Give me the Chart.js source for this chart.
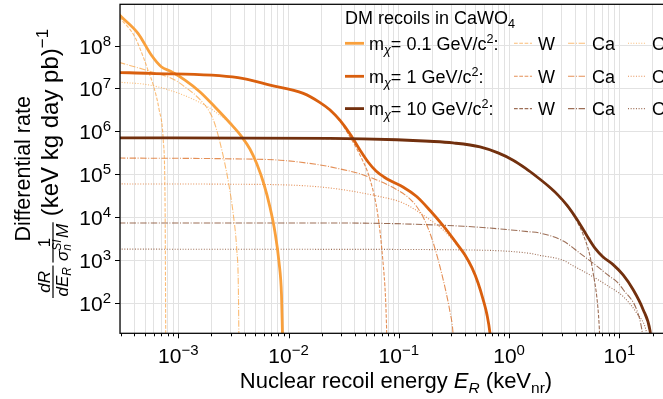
<!DOCTYPE html>
<html>
<head>
<meta charset="utf-8">
<script src="https://cdn.jsdelivr.net/npm/chart.js@4.4.1/dist/chart.umd.min.js"></script>
<style>
  html, body { margin: 0; padding: 0; background: #fff; overflow: hidden; }
  #wrap { position: relative; width: 700px; height: 399px; }
</style>
</head>
<body>
<div id="wrap"><canvas id="rateChart" width="700" height="399"></canvas></div>
<script>
// Recoil energies E_R in keV_nr, rates in (keV kg day pb)^-1

// m_chi = 0.1 GeV/c^2
const eTot01 = [2.9e-4, 3.04e-4, 4.31e-4, 5.69e-4, 7.01e-4, 8.59e-4, 1.15e-3, 1.575e-3, 2.15e-3, 2.94e-3, 3.78e-3, 4.46e-3, 5.16e-3, 5.98e-3, 6.78e-3, 7.53e-3, 8.19e-3, 8.63e-3, 8.81e-3, 8.9e-3];
const rTot01 = [5.3e8, 4.69e8, 1.92e8, 6.0e7, 3.2e7, 2.48e7, 1.57e7, 8.3e6, 3.7e6, 1.57e6, 7.4e5, 3.9e5, 1.74e5, 5.9e4, 1.73e4, 4.5e3, 906, 154, 18, 8];
const eW01 = [2.9e-4, 4.0e-4, 4.8e-4, 5.3e-4, 5.9e-4, 6.7e-4, 7.3e-4, 7.58e-4, 7.69e-4, 7.71e-4];
const rW01 = [4.6e8, 1.65e8, 5.5e7, 2.7e7, 1.25e7, 3.2e6, 6.3e5, 2.5e4, 20, 5];
const eCa01 = [2.9e-4, 5.7e-4, 9.3e-4, 1.14e-3, 1.45e-3, 1.82e-3, 2.0e-3, 2.19e-3, 2.4e-3, 2.63e-3, 2.88e-3, 3.16e-3, 3.39e-3, 3.5e-3, 3.55e-3];
const rCa01 = [4.05e7, 2.45e7, 1.58e7, 1.1e7, 6.76e6, 3.55e6, 2.34e6, 1.26e6, 5.25e5, 1.9e5, 5.6e4, 1.12e4, 1.78e3, 282, 10];
const eO01 = [2.9e-4, 5.5e-4, 1.1e-3, 1.86e-3, 2.23e-3, 2.94e-3, 3.78e-3, 4.46e-3, 5.16e-3, 5.98e-3, 6.78e-3, 7.53e-3, 8.19e-3, 8.63e-3, 8.81e-3, 8.9e-3];
const rO01 = [1.4e7, 1.2e7, 7.1e6, 3.7e6, 2.7e6, 1.55e6, 7.4e5, 3.9e5, 1.74e5, 5.9e4, 1.73e4, 4.5e3, 906, 154, 18, 8];

// m_chi = 1 GeV/c^2
const eTot1 = [2.9e-4, 5.53e-4, 3.48e-3, 6.79e-3, 1.36e-2, 1.93e-2, 2.38e-2, 2.93e-2, 3.61e-2, 4.44e-2, 5.26e-2, 6.21e-2, 7.33e-2, 8.67e-2, 0.109, 0.145, 0.192, 0.253, 0.335, 0.398, 0.461, 0.523, 0.583, 0.631, 0.671, 0.693];
const rTot1 = [2.35e7, 2.25e7, 1.78e7, 1.2e7, 7.7e6, 4.7e6, 3.15e6, 1.8e6, 8.7e5, 3.69e5, 1.94e5, 1.2e5, 8.7e4, 6.8e4, 5.1e4, 3.05e4, 1.44e4, 6.3e3, 2.45e3, 1.33e3, 664, 297, 119, 53, 20, 8];
const eW1 = [2.9e-4, 5.53e-4, 3.48e-3, 6.79e-3, 1.36e-2, 1.93e-2, 2.38e-2, 2.93e-2, 3.61e-2, 4.45e-2, 5.5e-2, 6.46e-2, 7.16e-2, 7.59e-2, 7.76e-2, 7.8e-2];
const rW1 = [2.33e7, 2.23e7, 1.76e7, 1.19e7, 7.6e6, 4.6e6, 3.0e6, 1.72e6, 7.4e5, 2.8e5, 7.4e4, 1.1e4, 1000, 117, 20, 10];
const eCa1 = [2.9e-4, 3.1e-3, 8.36e-3, 1.93e-2, 2.38e-2, 4.76e-2, 9.6e-2, 0.132, 0.156, 0.174, 0.192, 0.213, 0.236, 0.263, 0.291, 0.309, 0.314];
const rCa1 = [2.4e5, 2.3e5, 2.14e5, 1.66e5, 1.5e5, 9.7e4, 4.4e4, 2.4e4, 1.35e4, 7.9e3, 4.2e3, 1.86e3, 708, 224, 63, 22, 10];
const eO1 = [2.9e-4, 3.1e-3, 1.93e-2, 6.9e-2, 0.11, 0.192, 0.254, 0.335, 0.398, 0.461, 0.523, 0.583, 0.631, 0.671, 0.693];
const rO1 = [6.0e4, 5.9e4, 5.1e4, 3.0e4, 2.14e4, 8.7e3, 5.0e3, 2.3e3, 1.26e3, 630, 288, 117, 52, 20, 8];

// m_chi = 10 GeV/c^2
const eTot10 = [2.9e-4, 2.38e-2, 9.6e-2, 0.19, 0.31, 0.545, 0.794, 1.087, 1.413, 1.795, 2.239, 2.723, 3.357, 4.13, 5.09, 6.03, 7.11, 8.77, 10.81, 13.3, 16.4, 18.97, 19.7];
const rTot10 = [7.1e5, 6.9e5, 6.4e5, 5.9e5, 5.4e5, 4.37e5, 3.16e5, 2.14e5, 1.38e5, 8.7e4, 5.5e4, 3.47e4, 1.9e4, 8.9e3, 3.7e3, 1.9e3, 1.2e3, 794, 457, 209, 72, 23, 10];
const eW10 = [2.9e-4, 2.38e-2, 9.6e-2, 0.19, 0.31, 0.545, 0.794, 1.087, 1.413, 1.795, 2.239, 2.723, 3.357, 4.13, 4.69, 5.4, 5.8, 6.24, 6.55, 6.68];
const rW10 = [7.0e5, 6.8e5, 6.3e5, 5.8e5, 5.3e5, 4.3e5, 3.1e5, 2.1e5, 1.35e5, 8.5e4, 5.35e4, 3.35e4, 1.8e4, 8.0e3, 4.0e3, 1.3e3, 480, 140, 32, 10];
const eCa10 = [2.9e-4, 2.38e-2, 0.385, 1.55, 1.91, 3.1, 4.4, 5.8, 8.2, 9.5, 10.9, 14.4, 16.0, 16.7];
const rCa10 = [7.4e3, 7.4e3, 6.2e3, 4.6e3, 4.3e3, 2.8e3, 1.45e3, 850, 420, 316, 204, 69, 24, 10];
const eO10 = [2.9e-4, 2.38e-2, 0.443, 1.55, 1.91, 3.1, 3.83, 5.4, 7.7, 10.9, 14.4, 17.7, 18.9];
const rO10 = [1.82e3, 1.8e3, 1.74e3, 1.45e3, 1.3e3, 1.0e3, 740, 457, 263, 141, 58, 20, 6];

// axis ranges and tick decades
const xRange = [2.96e-4, 30];
const yRange = [20, 9.1e8];
const xDecades = [-3, -2, -1, 0, 1];
const yDecades = [2, 3, 4, 5, 6, 7, 8];

const massLabels = ['0.1', '1', '10'];
const massColors = ['#f9a03c', '#d95f0e', '#72300e'];
const targets = ['W', 'Ca', 'O'];
const targetDash = [[3.7, 1.6], [6.4, 1.6, 1, 1.6], [1, 1.65]];

const FONT = '"Liberation Sans", Arial, sans-serif';
const font = (size, style) => (style ? style + ' ' : '') + size + 'px ' + FONT;

function fade(hex, a) {
  const n = parseInt(hex.slice(1), 16);
  return 'rgba(' + (n >> 16) + ',' + ((n >> 8) & 255) + ',' + (n & 255) + ',' + a + ')';
}

function curve(e, r, color, width, dash, order) {
  return {
    data: e.map((v, i) => ({ x: v, y: r[i] })),
    borderColor: color,
    borderWidth: width,
    borderDash: dash,
    pointRadius: 0,
    fill: false,
    cubicInterpolationMode: 'monotone',
    order: order
  };
}

const series = [
  [eTot01, rTot01, eW01, rW01, eCa01, rCa01, eO01, rO01],
  [eTot1, rTot1, eW1, rW1, eCa1, rCa1, eO1, rO1],
  [eTot10, rTot10, eW10, rW10, eCa10, rCa10, eO10, rO10]
];

const datasets = [];
series.forEach((s, m) => {
  for (let t = 0; t < 3; t++) {
    datasets.push(curve(s[2 + 2 * t], s[3 + 2 * t], fade(massColors[m], 0.7), 1.1, targetDash[t], 5));
  }
});
series.forEach((s, m) => {
  datasets.push(curve(s[0], s[1], massColors[m], 2.8, [], 3 - m));
});

// draws runs of text with different fonts / baseline shifts, returns end x
function drawRuns(ctx, parts, x, y, measureOnly) {
  let cx = x;
  for (const p of parts) {
    ctx.font = p[1];
    if (!measureOnly) ctx.fillText(p[0], cx, y + (p[2] || 0));
    cx += ctx.measureText(p[0]).width;
  }
  return cx;
}

function powParts(exp) {
  const e = exp < 0 ? '\u2212' + (-exp) : String(exp);
  return [['10', font(21)], [e, font(15), -8]];
}

function isDecade(v) {
  const l = Math.log10(v);
  return Math.abs(l - Math.round(l)) < 1e-9;
}

const frameAndText = {
  id: 'frameAndText',
  afterDraw(chart) {
    const ctx = chart.ctx;
    const a = chart.chartArea;
    const xs = chart.scales.x;
    const ys = chart.scales.y;
    ctx.save();
    ctx.fillStyle = '#000';
    ctx.strokeStyle = '#000';
    ctx.textBaseline = 'alphabetic';
    ctx.textAlign = 'left';

    // axes box
    ctx.lineWidth = 1.25;
    ctx.strokeRect(a.left, a.top, a.right - a.left, a.bottom - a.top);

    // x ticks, major and minor
    ctx.lineWidth = 1;
    xs.ticks.forEach(t => {
      const px = Math.round(xs.getPixelForValue(t.value)) + 0.5;
      const len = isDecade(t.value) ? 5 : 3;
      ctx.beginPath();
      ctx.moveTo(px, a.bottom);
      ctx.lineTo(px, a.bottom + len);
      ctx.stroke();
    });
    // y ticks
    ys.ticks.forEach(t => {
      const py = Math.round(ys.getPixelForValue(t.value)) + 0.5;
      ctx.beginPath();
      ctx.moveTo(a.left - 5, py);
      ctx.lineTo(a.left, py);
      ctx.stroke();
    });

    // tick labels
    xDecades.forEach(d => {
      const px = xs.getPixelForValue(Math.pow(10, d));
      const parts = powParts(d);
      const w = drawRuns(ctx, parts, 0, 0, true);
      drawRuns(ctx, parts, px - w / 2, a.bottom + 30);
    });
    yDecades.forEach(d => {
      const py = ys.getPixelForValue(Math.pow(10, d));
      const parts = powParts(d);
      const w = drawRuns(ctx, parts, 0, 0, true);
      drawRuns(ctx, parts, a.left - 9 - w, py + 8);
    });

    // x title
    const xTitle = [
      ['Nuclear recoil energy ', font(22)],
      ['E', font(22, 'italic')],
      ['R', font(15.5, 'italic'), 4.5],
      [' (keV', font(22)],
      ['nr', font(15.5), 4.5],
      [')', font(22)]
    ];
    const xw = drawRuns(ctx, xTitle, 0, 0, true);
    drawRuns(ctx, xTitle, (a.left + a.right) / 2 - xw / 2, 388);

    // y title, first line
    const midY = (a.top + a.bottom) / 2;
    ctx.save();
    ctx.translate(30, midY);
    ctx.rotate(-Math.PI / 2);
    const l1 = [['Differential rate', font(21.5)]];
    const w1 = drawRuns(ctx, l1, 0, 0, true);
    drawRuns(ctx, l1, -w1 / 2, 0);
    ctx.restore();

    // y title, second line: dR/dE_R * 1/(sigma_n^SI M) (keV kg day pb)^-1
    ctx.save();
    ctx.translate(58, 298);
    ctx.rotate(-Math.PI / 2);
    const fs = 17, fsub = 12;
    ctx.font = font(fs, 'italic');
    const wNum1 = ctx.measureText('dR').width;
    const den1 = [['dE', font(fs, 'italic')], ['R', font(fsub, 'italic'), 3.5]];
    const wDen1 = drawRuns(ctx, den1, 0, 0, true);
    const bar1 = Math.max(wNum1, wDen1) + 3;
    ctx.font = font(fs, 'italic');
    ctx.fillText('dR', (bar1 - wNum1) / 2, -8.5);
    drawRuns(ctx, den1, (bar1 - wDen1) / 2, 9.5);
    ctx.fillRect(0, -5.6, bar1, 1.2);

    const x2 = bar1 + 3;
    ctx.font = font(fs, 'italic');
    const wSig = ctx.measureText('\u03c3').width;
    ctx.font = font(fsub, 'italic');
    const wSI = ctx.measureText('SI').width;
    ctx.font = font(fs, 'italic');
    const wM = ctx.measureText('M').width;
    const wDen2 = wSig + wSI + 1.5 + wM;
    const bar2 = wDen2 + 3;
    ctx.font = font(fs);
    const wOne = ctx.measureText('1').width;
    ctx.fillText('1', x2 + (bar2 - wOne) / 2, -8.5);
    let dx = x2 + 1.5;
    ctx.font = font(fs, 'italic');
    ctx.fillText('\u03c3', dx, 9.5);
    dx += wSig;
    ctx.font = font(fsub, 'italic');
    ctx.fillText('SI', dx, 2.5);
    ctx.fillText('n', dx, 13);
    dx += wSI + 1.5;
    ctx.font = font(fs, 'italic');
    ctx.fillText('M', dx, 9.5);
    ctx.fillRect(x2, -5.6, bar2, 1.2);

    drawRuns(ctx, [['(keV kg day pb)', font(24)], ['\u22121', font(17), -10]], x2 + bar2 + 6, 0);
    ctx.restore();

    ctx.restore();
  }
};

const legendBlock = {
  id: 'legendBlock',
  afterDatasetsDraw(chart) {
    const ctx = chart.ctx;
    ctx.save();
    ctx.fillStyle = '#000';
    ctx.textBaseline = 'alphabetic';
    drawRuns(ctx, [['DM recoils in CaWO', font(18)], ['4', font(12.6), 4]], 345, 24);
    const rowY = [43.3, 76.3, 108.6];
    const handleX = [514, 568, 628];
    const textX = [538, 592, 652];
    rowY.forEach((y, m) => {
      ctx.lineCap = 'butt';
      ctx.setLineDash([]);
      ctx.strokeStyle = massColors[m];
      ctx.lineWidth = 2.8;
      ctx.beginPath();
      ctx.moveTo(345, y);
      ctx.lineTo(364, y);
      ctx.stroke();
      drawRuns(ctx, [
        ['m', font(18)],
        ['\u03c7', font(12.6, 'italic'), 4],
        ['= ' + massLabels[m] + ' GeV/c', font(18)],
        ['2', font(12.6), -7],
        [':', font(18)]
      ], 369, y + 6.5);
      targets.forEach((t, k) => {
        ctx.strokeStyle = fade(massColors[m], 0.7);
        ctx.lineWidth = 1.1;
        ctx.setLineDash(targetDash[k]);
        ctx.beginPath();
        ctx.moveTo(handleX[k], y);
        ctx.lineTo(handleX[k] + 18, y);
        ctx.stroke();
        ctx.setLineDash([]);
        ctx.font = font(18);
        ctx.fillText(t, textX[k], y + 6.5);
      });
    });
    ctx.restore();
  }
};

function logTicks(lo, hi, withMinor) {
  const out = [];
  for (let d = Math.floor(Math.log10(lo)); d <= Math.ceil(Math.log10(hi)); d++) {
    const subs = withMinor ? [1, 2, 3, 4, 5, 6, 7, 8, 9] : [1];
    subs.forEach(s => {
      const v = s * Math.pow(10, d);
      if (v >= lo && v <= hi) out.push({ value: v, major: s === 1 });
    });
  }
  return out;
}

new Chart(document.getElementById('rateChart').getContext('2d'), {
  type: 'line',
  data: { datasets: datasets },
  options: {
    responsive: false,
    animation: false,
    events: [],
    layout: { padding: { left: 0, right: 28, top: 4.3, bottom: 0 } },
    plugins: { legend: { display: false }, tooltip: { enabled: false } },
    scales: {
      x: {
        type: 'logarithmic',
        min: xRange[0],
        max: xRange[1],
        afterBuildTicks: s => { s.ticks = logTicks(xRange[0], xRange[1], true); },
        afterFit: s => { s.height = 65.7; },
        ticks: { display: false, autoSkip: false },
        grid: { color: '#e2e2e2', lineWidth: 1, drawTicks: false },
        border: { display: false }
      },
      y: {
        type: 'logarithmic',
        min: yRange[0],
        max: yRange[1],
        afterBuildTicks: s => { s.ticks = logTicks(yRange[0], yRange[1], false); },
        afterFit: s => { s.width = 120; },
        ticks: { display: false, autoSkip: false },
        grid: { color: '#e2e2e2', lineWidth: 1, drawTicks: false },
        border: { display: false }
      }
    }
  },
  plugins: [legendBlock, frameAndText]
});
</script>
</body>
</html>
